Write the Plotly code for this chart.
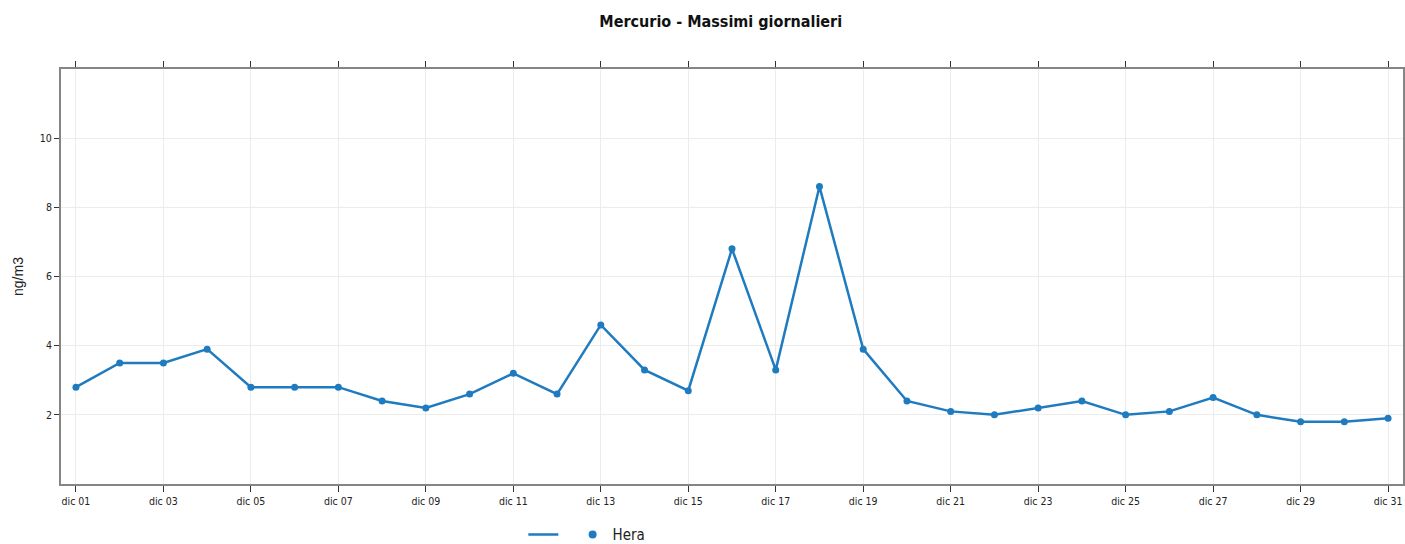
import plotly.graph_objects as go
import pandas as pd

days = pd.date_range("2023-12-01", "2023-12-31", freq="D")
hera = [2.8, 3.5, 3.5, 3.9, 2.8, 2.8, 2.8, 2.4, 2.2, 2.6,
        3.2, 2.6, 4.6, 3.3, 2.7, 6.8, 3.3, 8.6, 3.9, 2.4,
        2.1, 2.0, 2.2, 2.4, 2.0, 2.1, 2.5, 2.0, 1.8, 1.8, 1.9]
tick_days = days[::2]
tick_labels = ["dic %02d" % d.day for d in tick_days]
y_ticks = [2, 4, 6, 8, 10]

FONT = "Liberation Sans Narrow, DejaVu Sans Condensed, Roboto Condensed, Arial Narrow, sans-serif"
AX = "#858585"
GRID = "#ececec"
BLUE = "#1f7bbf"

fig = go.Figure()
fig.add_trace(go.Scatter(
    x=days, y=hera, mode="lines+markers", name="Hera",
    line=dict(color=BLUE, width=2.5),
    marker=dict(color=BLUE, size=7),
    showlegend=False,
))
# legend entries: line and marker shown separately, as in the reference
fig.add_trace(go.Scatter(x=[None], y=[None], mode="lines", name=" ",
                         line=dict(color=BLUE, width=2.5)))
fig.add_trace(go.Scatter(x=[None], y=[None], mode="markers", name="Hera",
                         marker=dict(color=BLUE, size=8)))

fig.update_layout(
    width=1405, height=544,
    margin=dict(l=61, r=2, t=69, b=60),
    paper_bgcolor="white", plot_bgcolor="white",
    font=dict(family=FONT, color="#222", size=11),
    title=dict(text="<b>Mercurio - Massimi giornalieri</b>", x=0.513, xanchor="center",
               y=0.96, yanchor="middle", font=dict(family=FONT, size=16, color="#111")),
    showlegend=True,
    legend=dict(orientation="h", x=0.3445, xanchor="left",
                yref="container", y=0.017, yanchor="middle",
                traceorder="normal", tracegroupgap=0,
                font=dict(family=FONT, size=15, color="#222"), itemclick=False),
)
fig.update_xaxes(
    type="date", automargin=False,
    range=[days[0] - pd.Timedelta(hours=8.2), days[-1] + pd.Timedelta(hours=8.2)],
    tickvals=tick_days, ticktext=tick_labels,
    showline=True, linecolor=AX, linewidth=2, mirror="ticks",
    ticks="outside", ticklen=6, tickwidth=1, tickcolor="#333",
    showgrid=True, gridcolor=GRID, gridwidth=1, zeroline=False,
    tickfont=dict(family=FONT, size=10.5, color="#222"),
)
fig.update_yaxes(
    range=[0, 12], automargin=False,
    tickvals=y_ticks,
    showline=True, linecolor=AX, linewidth=2, mirror="ticks",
    ticks="outside", ticklen=5, tickwidth=1, tickcolor="#333",
    showgrid=True, gridcolor=GRID, gridwidth=1, zeroline=False,
    tickfont=dict(family=FONT, size=10.5, color="#222"),
    title=dict(text="ng/m3", font=dict(family="Liberation Sans, sans-serif", size=14, color="#222"), standoff=13),
)

fig.write_html("out.html", config={"displayModeBar": False},
               post_script="document.body.style.margin='0';document.body.style.overflow='hidden';")
